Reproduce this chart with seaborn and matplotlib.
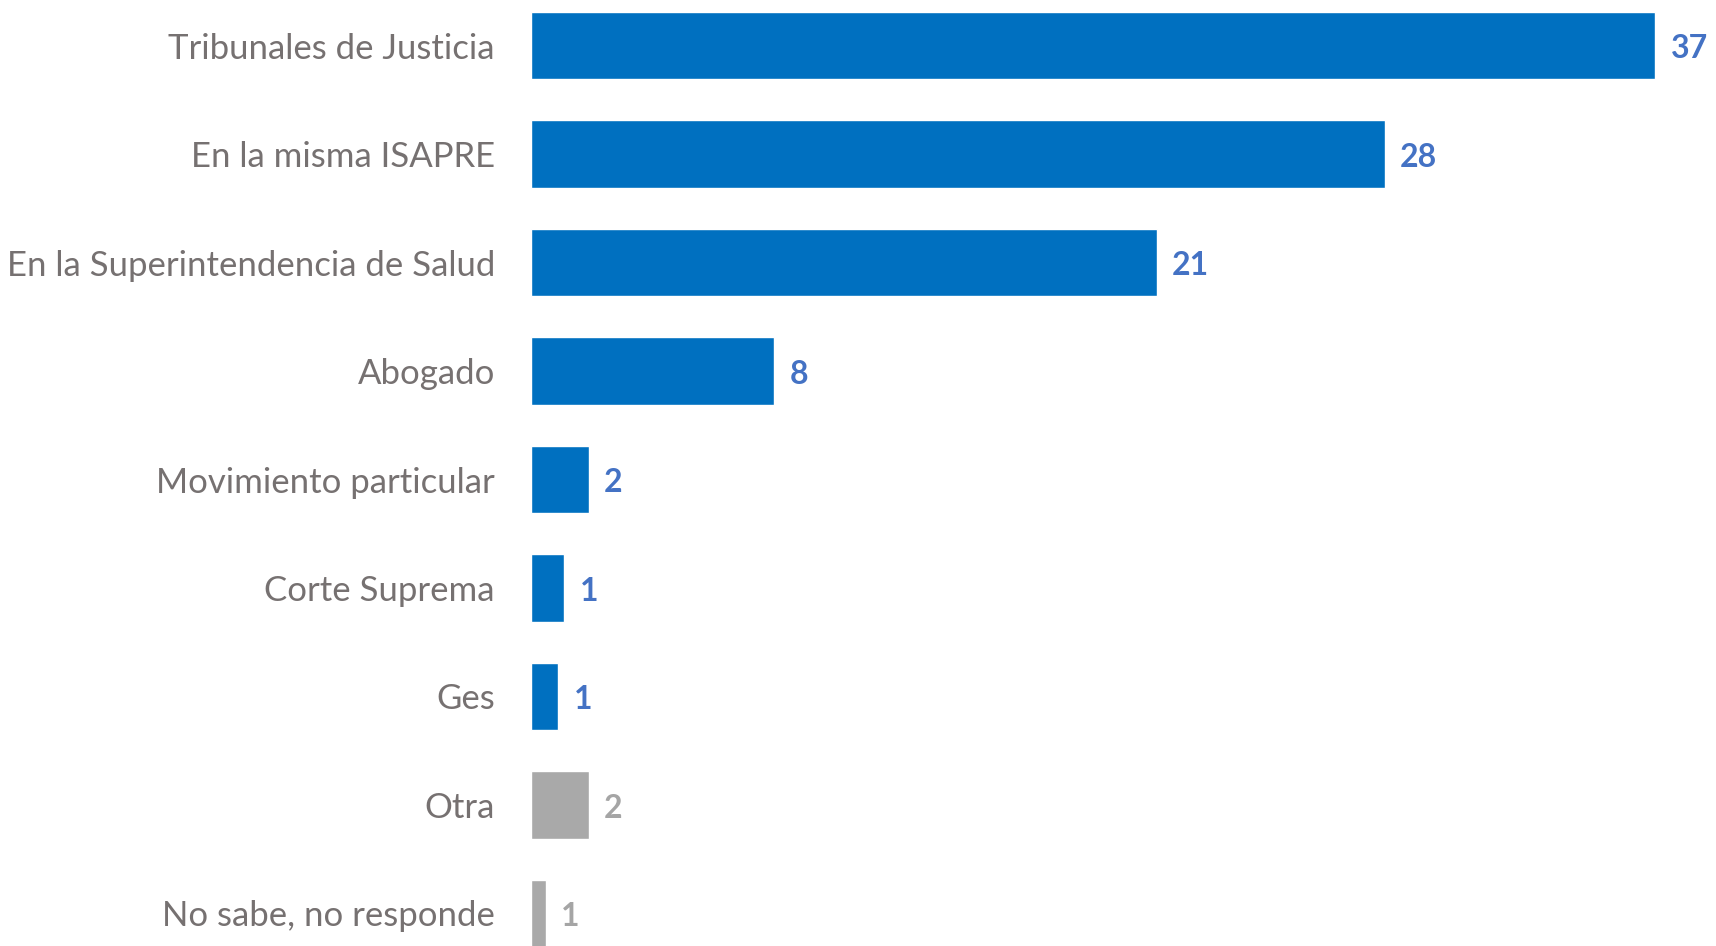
import matplotlib
matplotlib.use("Agg")
import matplotlib.pyplot as plt
import seaborn as sns

categories = ["Tribunales de Justicia", "En la misma ISAPRE", "En la Superintendencia de Salud",
              "Abogado", "Movimiento particular", "Corte Suprema", "Ges", "Otra",
              "No sabe, no responde"]
values = [37.0, 28.1, 20.6, 8.0, 1.9, 1.1, 0.9, 1.9, 0.5]
labels = ["37", "28", "21", "8", "2", "1", "1", "2", "1"]
is_other = [False, False, False, False, False, False, False, True, True]

BLUE = "#0070C0"
GRAY = "#A9A9A9"
bar_colors = [GRAY if o else BLUE for o in is_other]
text_colors = ["#A5A5A5" if o else "#4472C4" for o in is_other]

sns.set_style("white")
plt.rcParams["font.family"] = ["Lato", "DejaVu Sans"]

fig = plt.figure(figsize=(17.16, 9.46), dpi=100)
ax = fig.add_axes([531 / 1716, 0, (1716 - 531) / 1716, 1])

sns.barplot(x=values, y=categories, hue=categories, palette=bar_colors,
            legend=False, orient="h", width=0.62, saturation=1, ax=ax)

# value labels at the end of each bar
for i, (v, lab, c) in enumerate(zip(values, labels, text_colors)):
    ax.text(v + 0.5, i + 0.03, lab, va="center", ha="left", fontsize=23,
            fontweight="bold", color=c)

ax.set_xlim(0, 39)
ax.set_ylim(8.30, -0.42)
ax.set_xticks([])
ax.set_xlabel("")
ax.set_ylabel("")
ax.tick_params(axis="y", length=0, pad=26, labelsize=25, labelcolor="#767171")
sns.despine(ax=ax, left=True, bottom=True)

fig.savefig("out.png", dpi=100)
